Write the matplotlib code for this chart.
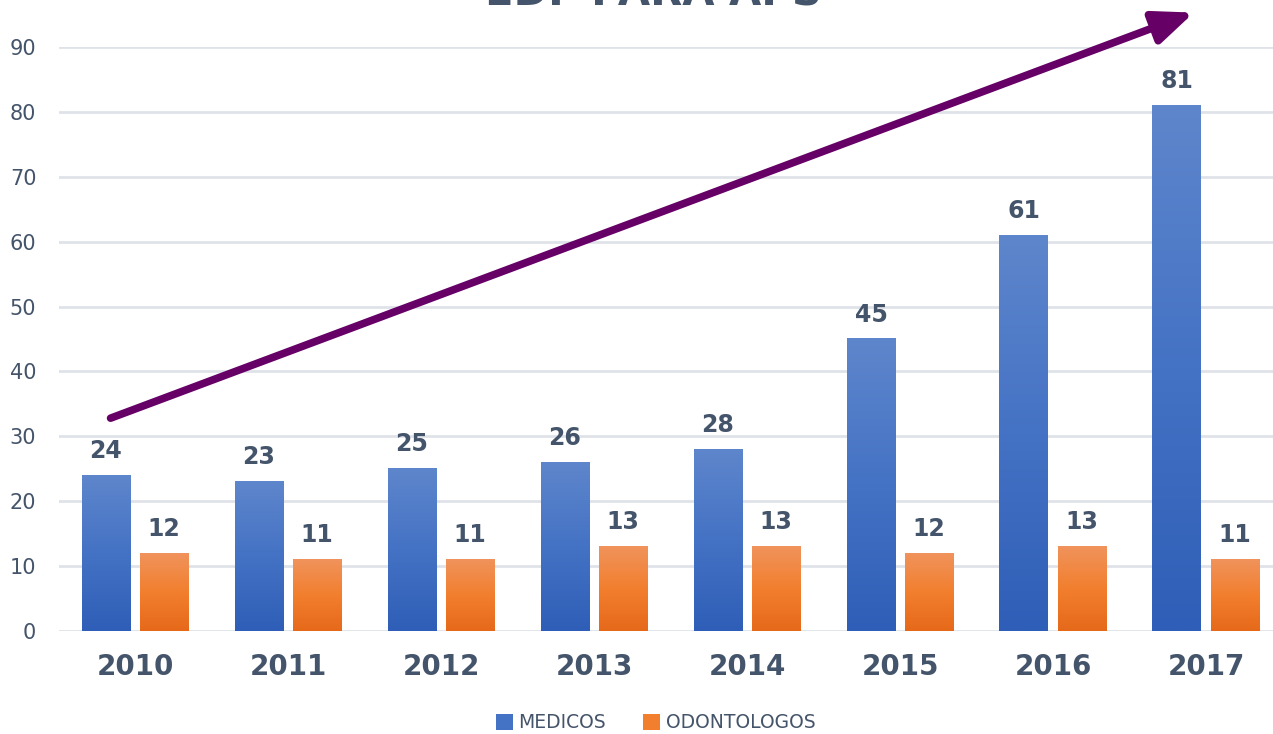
import numpy as np
import matplotlib.pyplot as plt
from matplotlib.colors import LinearSegmentedColormap
from matplotlib.patches import Patch

years = ['2010', '2011', '2012', '2013', '2014', '2015', '2016', '2017']
medicos = [24, 23, 25, 26, 28, 45, 61, 81]
odontologos = [12, 11, 11, 13, 13, 12, 13, 11]

text_col = '#44546a'
blue_cmap = LinearSegmentedColormap.from_list('b', ['#2e5eb7', '#4472c4', '#5e86cc'])
orange_cmap = LinearSegmentedColormap.from_list('o', ['#e6691a', '#f27f2e', '#f0935c'])

fig = plt.figure(figsize=(12.73, 7.34), dpi=100)
ax = fig.add_axes([0.046, 0.1403, 0.9615, 0.7957])

x = np.arange(len(years))
w = 0.32
off = 0.19
grad = np.linspace(0, 1, 256).reshape(-1, 1)


def gradient_bars(xs, vals, cmap, label):
    # plain bars for the layout, then a gradient image painted over each
    bars = ax.bar(xs, vals, w, color=cmap(0.5), label=label, zorder=2)
    for b in bars:
        b.set_alpha(0)
        x0, y0 = b.get_x(), b.get_y()
        ax.imshow(grad, cmap=cmap, origin='lower', aspect='auto',
                  extent=(x0, x0 + b.get_width(), y0, y0 + b.get_height()), zorder=3)
    return bars


gradient_bars(x - off, medicos, blue_cmap, 'MEDICOS')
gradient_bars(x + off, odontologos, orange_cmap, 'ODONTOLOGOS')

for xi, m, o in zip(x, medicos, odontologos):
    ax.text(xi - off, m + 1.9, str(m), ha='center', va='bottom', fontsize=17,
            fontweight='bold', color=text_col)
    ax.text(xi + off, o + 1.9, str(o), ha='center', va='bottom', fontsize=17,
            fontweight='bold', color=text_col)

ax.set_xlim(-0.5, len(years) - 0.5)
ax.set_ylim(0, 90)
ax.set_yticks(range(0, 91, 10))
ax.set_xticks(x)
ax.set_xticklabels(years, fontsize=20, fontweight='bold', color=text_col)
ax.tick_params(axis='y', labelsize=15, labelcolor=text_col, length=0, pad=16)
ax.tick_params(axis='x', length=0, pad=16)
ax.grid(axis='y', color='#dfe2e8', linewidth=2, zorder=0)
ax.set_axisbelow(True)
for s in ax.spines.values():
    s.set_visible(False)

# trend arrow
ax.annotate('', xy=(6.92, 95.3), xytext=(-0.16, 32.8), annotation_clip=False,
            arrowprops=dict(arrowstyle='-|>,head_length=2.4,head_width=1.0',
                            color='#660066', lw=5.5, shrinkA=0, shrinkB=0))

fig.text(0.513, 0.993, 'EDF PARA APS', ha='center', va='baseline', fontsize=30,
         fontweight='bold', color=text_col)

handles = [Patch(facecolor='#4472c4'), Patch(facecolor='#f27f2e')]
fig.legend(handles, ['MEDICOS', 'ODONTOLOGOS'], loc='center', bbox_to_anchor=(0.515, 0.015),
           ncol=2, frameon=False, fontsize=13.5, labelcolor=text_col, handlelength=0.9,
           handleheight=0.9, handletextpad=0.3, columnspacing=2)

fig.savefig('out.png', dpi=100)
